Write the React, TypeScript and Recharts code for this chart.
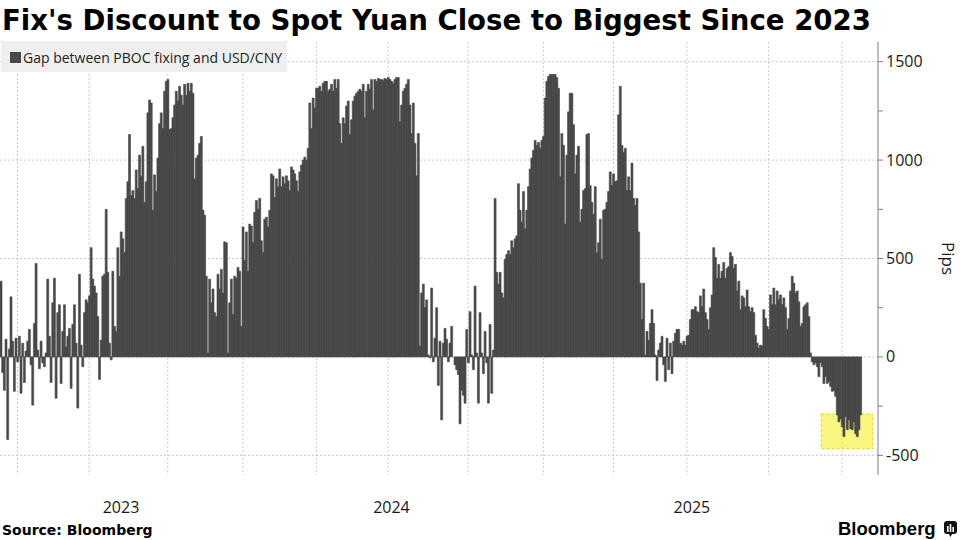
import { Bar, BarChart, CartesianGrid, ReferenceArea, XAxis, YAxis } from "recharts";

// Gap between PBOC fixing and USD/CNY, pips (roughly one sample every couple of trading days)
const GAP_LATE_2022 = [
  385, -80, -170, 90, -420, 40, 305, 80, -175, 95, -25, 105, -185, 70, -130, 30, 80, 140, -40, -245,
  170, 475, 35, -60, 80, -30, -50, 20, 395, 105, -130, 275, 400, -210, 225, 265, -135, 130, 265, 50,
  105, 145, -160, 165, 265, 70, -260, 420, 60, -50, 225, 290, 275, 310, 555, 395, 360, 325, 205, -115,
  85, 410, 420, 750, 430, 70, -15, 435, 155, 130, 555, 410, 635, 600, 530, 805, 890, 1130, 820, 845,
  805, 950, 855, 1025, 915, 1070, 785, 890, 1240, 1305, 1290, 745, 925, 840, 1010, 1185, 1240, 1160, 1350, 1400,
  1410, 1155, 1160, 1215, 1280, 1350, 1300, 1375, 1330, 1280, 1385, 1330, 1390, 1350, 1390, 1340, 905, 1010, 1025, 1085,
  1120, 745, 720, 410, 20, 395, 275, 345, 225, 205, 420, 345,
];

const GAP_2023 = [
  445, 325, 585, 580, 20, 275, 395, 215, 410, 400, 455, 435, 155, 660, 490, 635, 435, 675, 665, 580,
  735, 795, 750, 805, 590, 530, 700, 710, 660, 745, 930, 920, 810, 905, 865, 955, 865, 915, 880, 920,
  895, 845, 965, 950, 930, 895, 840, 940, 975, 1000, 1015, 1000, 1060, 1290, 1160, 1315, 1265, 1365, 1365, 1375,
  1350, 1390, 1400, 1400, 1350, 1360, 1385, 1350, 1410, 1365, 1410, 1185, 1085, 1215, 1185, 1275, 1300, 1130, 1205, 1300,
  1325, 1340, 1350, 1360, 1350, 1385, 1215, 1350, 1385, 1360, 1410, 1255, 1410, 1400, 1415, 1410, 1410, 1405, 1415, 1410,
  1420, 1410, 1400, 1390, 1410, 1420, 1420, 1195, 1280, 1350, 1365, 1385, 1410, 1280, 1135, 1290, 1085, 920, 1135, 55,
  325, 370, 250, 290, 10, -5, 350, -25, 95, 250, -145, 80,
];

const GAP_2024 = [
  -320, 70, 145, 90, -25, 70, 155, 0, -40, -65, -90, -340, -170, -195, -235, 140, -30, 230, 10, -65,
  360, 20, -235, 225, 20, -85, 130, -30, -235, 165, -185, 35, 805, 430, 370, 430, 325, 300, 495, 520,
  540, 520, 590, 555, 600, 615, 880, 745, 685, 840, 650, 745, 865, 955, 1010, 1050, 1100, 1075, 1090, 1060,
  1100, 1120, 1315, 1400, 1425, 1435, 1435, 1435, 1435, 1420, 1365, 915, 1135, 1075, 675, 1025, 1245, 1340, 1340, 1180,
  930, 1025, 1070, 685, 750, 845, 855, 1130, 1135, 870, 785, 725, 865, 530, 580, 700, 495, 745, 750, 785,
  840, 940, 870, 930, 890, 895, 1230, 1375, 1075, 1040, 1060, 845, 915, 845, 985, 805, 770, 805, 635, 375,
  190, 375, 10, 130, 85, 170, 240, 170, 10, -120, 35, 70,
];

const GAP_2025 = [
  105, -40, -125, 95, -65, 70, -85, 80, 120, 140, 140, 70, 60, 80, 60, 105, 110, 190, 240, 240,
  255, 230, 225, 310, 255, 345, 225, 190, 140, 250, 315, 555, 505, 400, 470, 400, 435, 480, 400, 450,
  460, 530, 510, 450, 470, 335, 385, 240, 310, 300, 255, 340, 255, 230, 250, 225, 110, 70, 45, 60,
  55, 240, 195, 155, 140, 315, 265, 350, 265, 335, 290, 315, 265, 300, 250, 140, 195, 335, 410, 375,
  325, 335, 280, 155, 170, 255, 265, 275, 205, 20, -25, -40, -30, -50, -100, -30, -50, -135, -100, -135,
  -125, -150, -175, -170, -200, -295, -330, -315, -355, -405, -305, -370, -320, -365, -370, -330, -390, -405, -370, -295,
];

// axis runs a little past the last fixing
const EMPTY_TAIL = 10;

// sample index where each quarter begins (Oct-22 ... Jul-25)
const QUARTER_STARTS = [10, 53, 100, 145, 189, 232, 280, 325, 367, 411, 460, 504];
const YEAR_TICKS = [72, 234, 414];
const YEAR_LABELS = ["2023", "2024", "2025"];

const Y_TICKS = [-500, -250, 0, 250, 500, 750, 1000, 1250, 1500];
const Y_GRID = [-500, 0, 500, 1000, 1500];

// highlighted stretch of recent fixings
const HIGHLIGHT_FROM = 492;
const HIGHLIGHT_TO = 522;
const HIGHLIGHT_LOW = -467;
const HIGHLIGHT_HIGH = -290;

const BAR = "#484848";
const AXIS = "#7f7f7f";
const GRID = "#c9c9c9";
const TEXT = "#1a1a1a";

const gaps: (number | null)[] = [...GAP_LATE_2022, ...GAP_2023, ...GAP_2024, ...GAP_2025];
const data = [...gaps, ...Array(EMPTY_TAIL).fill(null)].map((gap, slot) => ({ slot, gap }));

function PipsTick({ x, y, payload }: any) {
  if (payload.value % 500 !== 0) return <g />;
  return (
    <text x={x} y={y} dy={5.5} fill={TEXT} fontSize={16} fontFamily="Open Sans">
      {payload.value}
    </text>
  );
}

export default function App() {
  return (
    <div style={{ position: "relative", width: 960, height: 540, background: "#fff", overflow: "hidden" }}>
      <style>{"body{margin:0}"}</style>
      <BarChart
        width={960}
        height={540}
        data={data}
        margin={{ top: 42, right: 0, bottom: 35, left: 0 }}
        barCategoryGap={0}
        barGap={0}
      >
        <CartesianGrid
          stroke={GRID}
          strokeDasharray="2 2"
          horizontalValues={Y_GRID}
          verticalValues={QUARTER_STARTS}
        />
        <XAxis
          dataKey="slot"
          type="category"
          ticks={YEAR_TICKS}
          interval={0}
          tickFormatter={(v) => YEAR_LABELS[YEAR_TICKS.indexOf(v)] ?? ""}
          axisLine={false}
          tickLine={false}
          tickSize={0}
          tickMargin={27}
          height={30}
          tick={{ fontSize: 16, fill: TEXT, fontFamily: "Open Sans" }}
        />
        <YAxis
          orientation="right"
          type="number"
          domain={[-600, 1600]}
          ticks={Y_TICKS}
          interval={0}
          allowDataOverflow
          width={82}
          axisLine={{ stroke: AXIS }}
          tickLine={{ stroke: AXIS }}
          tickSize={5}
          tickMargin={3}
          tick={<PipsTick />}
          label={{
            value: "Pips",
            angle: 90,
            position: "center",
            dx: 29,
            style: { fontSize: 17, fill: TEXT, fontFamily: "Open Sans" },
          }}
        />
        <Bar dataKey="gap" fill={BAR} stroke={BAR} strokeWidth={0.6} isAnimationActive={false} />
        <ReferenceArea
          x1={HIGHLIGHT_FROM}
          x2={HIGHLIGHT_TO}
          y1={HIGHLIGHT_LOW}
          y2={HIGHLIGHT_HIGH}
          fill="#f4f000"
          fillOpacity={0.5}
          stroke="#e2dc00"
          strokeDasharray="3 2"
        />
      </BarChart>

      <svg
        width={960}
        height={540}
        style={{ position: "absolute", left: 0, top: 0, pointerEvents: "none" }}
      >
        <text x={2} y={30} fontSize={27.6} fontWeight="bold" fontFamily="DejaVu Sans" fill="#000">
          Fix's Discount to Spot Yuan Close to Biggest Since 2023
        </text>
        <rect x={1} y={41} width={286} height={31} fill="#efefef" />
        <rect x={10} y={52} width={11} height={11} fill={BAR} />
        <text x={23} y={62.5} fontSize={14} fontFamily="Open Sans" fill="#222">
          Gap between PBOC fixing and USD/CNY
        </text>
        <text x={2} y={535} fontSize={14} fontWeight="bold" fontFamily="DejaVu Sans" fill="#000">
          Source: Bloomberg
        </text>
        <text x={838} y={535} fontSize={18.5} fontWeight="bold" fontFamily="Liberation Sans" fill="#000">
          Bloomberg
        </text>
        <g transform="translate(944,521)">
          <rect x={0} y={0} width={13} height={13} rx={3} fill="#111" />
          <path d="M5 13 L6.5 16 L8 13 Z" fill="#111" />
          <rect x={3} y={5} width={1.6} height={6} fill="#fff" />
          <rect x={5.7} y={3} width={1.6} height={8} fill="#fff" />
          <rect x={8.4} y={6} width={1.6} height={5} fill="#fff" />
        </g>
      </svg>
    </div>
  );
}
